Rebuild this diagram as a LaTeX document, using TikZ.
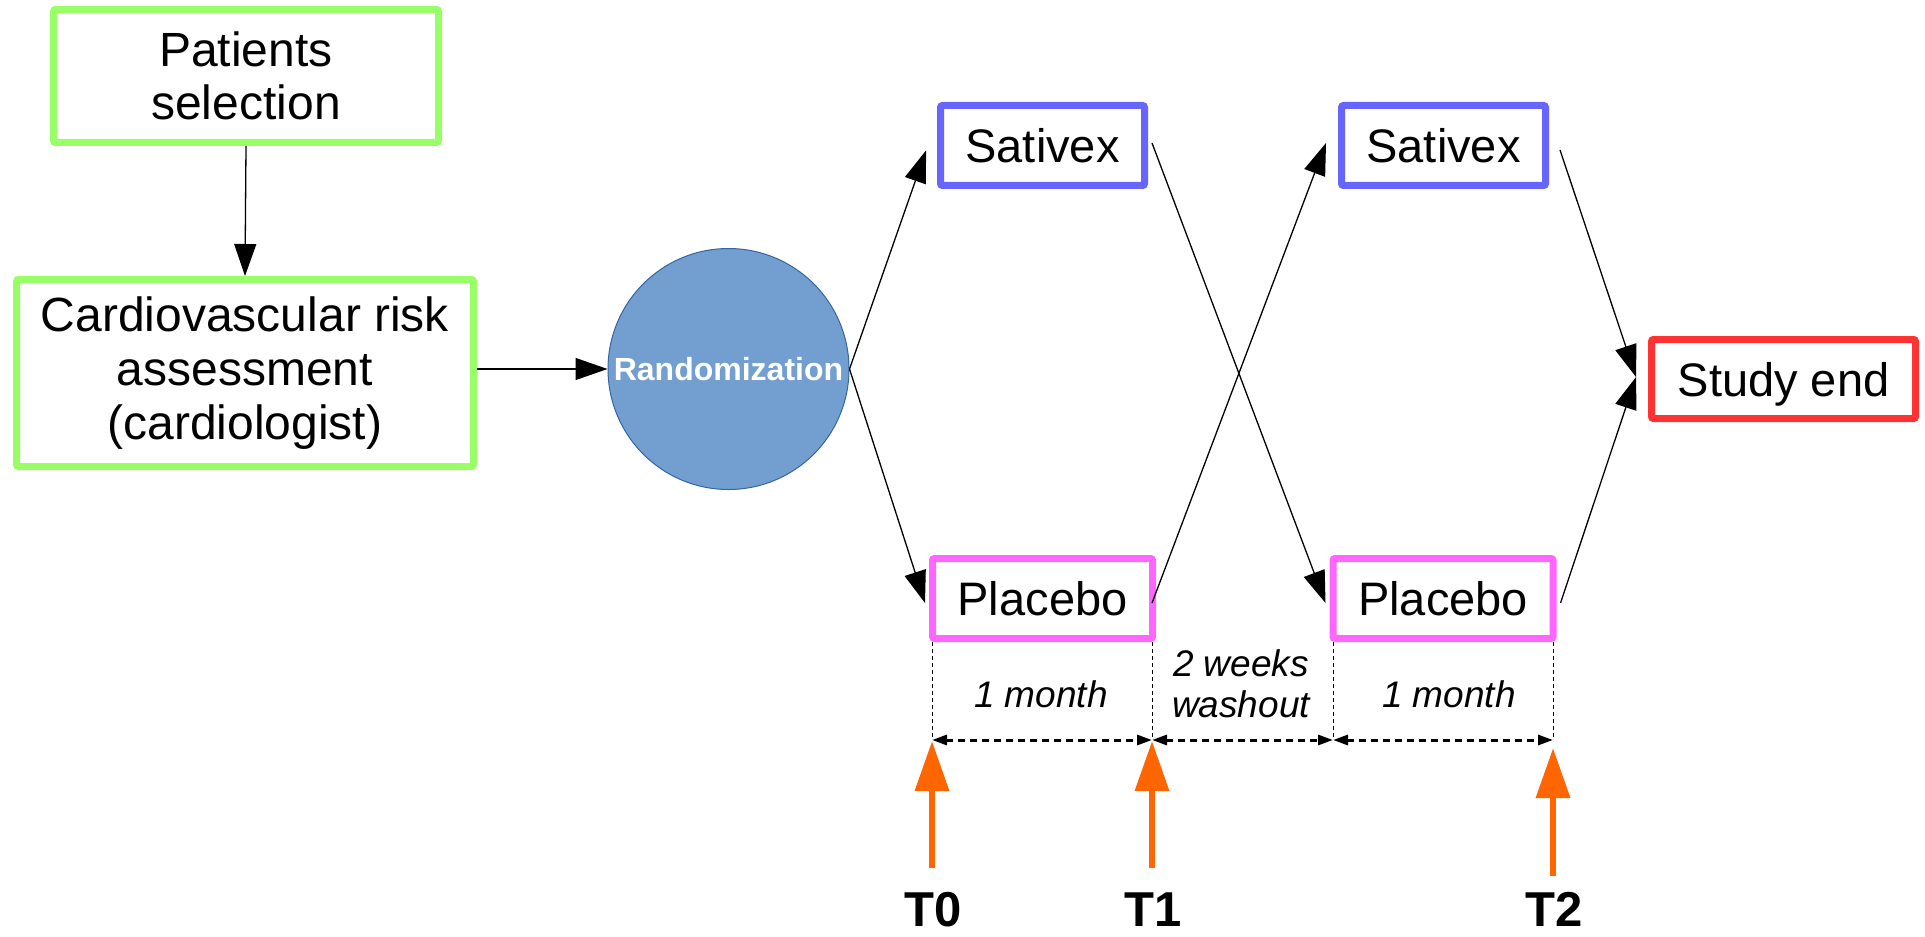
\documentclass[tikz,border=0pt]{standalone}
\usepackage{fontspec}
\setmainfont{Liberation Sans}
\usetikzlibrary{arrows.meta,calc}
\definecolor{boxgreen}{HTML}{99FF66}
\definecolor{boxblue}{HTML}{6666FF}
\definecolor{boxpink}{HTML}{FF66FF}
\definecolor{boxred}{HTML}{FF3333}
\definecolor{circfill}{HTML}{729FCF}
\definecolor{circline}{HTML}{3465A4}
\definecolor{tmorange}{HTML}{FF6600}
\begin{document}
\begin{tikzpicture}[x=0.5pt,y=-0.5pt,
  box/.style={draw, line width=3.5pt, rounded corners=1pt, inner sep=0pt, align=center,
    font=\fontsize{23.5}{26.5}\selectfont},
  conn/.style={line width=0.65pt, -{Triangle[length=16pt,width=11pt]}},
  dimarr/.style={line width=1.5pt, dash pattern=on 3.5pt off 2.5pt,
    {Triangle[length=7.5pt,width=5pt]}-{Triangle[length=7.5pt,width=5pt]}},
  guide/.style={line width=0.5pt, dash pattern=on 2pt off 1.5pt},
  orarrow/.style={draw=tmorange, line width=3.25pt, -{Triangle[length=25pt,width=16.5pt]}},
  lbl/.style={inner sep=0pt, font=\itshape\fontsize{18.5}{20.5}\selectfont},
  tlbl/.style={inner sep=0pt, font=\bfseries\fontsize{24.5}{28}\selectfont}
]
\useasboundingbox (0,0) rectangle (1925,936);
% boxes
\node[box, draw=boxgreen, minimum width=192.5pt, minimum height=66.5pt,
  font=\fontsize{24}{26.5}\selectfont] (pat) at (246,76) {Patients\\selection};
\node[box, draw=boxgreen, minimum width=228.5pt, minimum height=93.5pt,
  font=\fontsize{24}{27}\selectfont] (cardio) at (245,373) {Cardiovascular risk\\assessment\\(cardiologist)};
\node[circle, draw=circline, fill=circfill, line width=0.5pt, minimum size=120.5pt, inner sep=0pt,
  text=white, font=\bfseries\fontsize{16}{18}\selectfont] (rand) at (728.5,369) {Randomization};
\node[box, draw=boxblue, minimum width=102pt, minimum height=40pt] (sat1) at (1042.5,145.5) {Sativex};
\node[box, draw=boxblue, minimum width=102pt, minimum height=40pt] (sat2) at (1443.5,145.5) {Sativex};
\node[box, draw=boxpink, minimum width=110pt, minimum height=40pt] (pla1) at (1042.5,598.5) {Placebo};
\node[box, draw=boxpink, minimum width=110pt, minimum height=40pt] (pla2) at (1443,598.5) {Placebo};
\node[box, draw=boxred, minimum width=132pt, minimum height=39.5pt, text depth=0pt] (end) at (1783.5,379) {Study end};
% connectors
\draw[conn] (pat.south) -- (cardio.north);
\draw[conn] (cardio.east |- rand.west) -- (rand.west);
\draw[conn] (rand.east) -- ($(sat1.west)+(-11,5)$);
\draw[conn] (rand.east) -- ($(pla1.west)+(-4,4.5)$);
\draw[conn] ($(sat1.east)+(4,-2.5)$) -- ($(pla2.west)+(-4,4.5)$);
\draw[conn] ($(pla1.east)+(-4,4.5)$) -- ($(sat2.west)+(-12,-2.5)$);
\draw[conn] ($(sat2.east)+(11,4.5)$) -- ($(end.west)+(-12,-2)$);
\draw[conn] ($(pla2.east)+(4,4.5)$) -- ($(end.west)+(-12,-2)$);
% timeline
\coordinate (t0) at (932,740);
\coordinate (t1) at (1152,740);
\coordinate (tw) at (1333,740);
\coordinate (t2) at (1553,740);
\draw[guide] (t0 |- pla1.south) -- (t0);
\draw[guide] (t1 |- pla1.south) -- (t1);
\draw[guide] (tw |- pla2.south) -- (tw);
\draw[guide] (t2 |- pla2.south) -- (t2);
\draw[dimarr] (t0) -- (t1);
\draw[dimarr] (t1) -- (tw);
\draw[dimarr] (tw) -- (t2);
\node[lbl, anchor=base] (m1) at (1041,707) {1 month};
\node[lbl, align=center] (wash) at (1241,684) {2 weeks\\washout};
\node[lbl, anchor=base] (m2) at (1449,707) {1 month};
% time points
\coordinate (a0) at (932,868);
\coordinate (a1) at (1152,868);
\coordinate (a2) at (1553,876);
\coordinate (h0) at (932,741);
\coordinate (h1) at (1152,741);
\coordinate (h2) at (1553,748);
\draw[orarrow] (a0) -- (h0);
\draw[orarrow] (a1) -- (h1);
\draw[orarrow] (a2) -- (h2);
\node[tlbl, anchor=base] (T0) at (933.5,926) {T0};
\node[tlbl, anchor=base] (T1) at (1153,926) {T1};
\node[tlbl, anchor=base] (T2) at (1554,926) {T2};
\end{tikzpicture}
\end{document}
